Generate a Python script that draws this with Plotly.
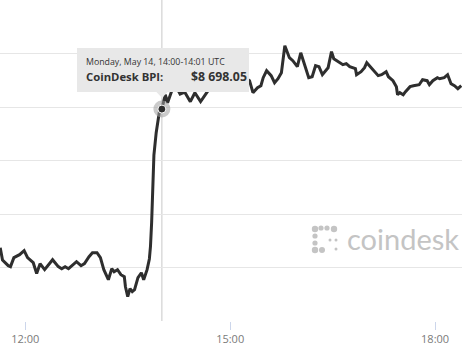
import plotly.graph_objects as go

DAY = "2018-05-14 "

times = [
    "11:38", "11:40", "11:45", "11:47", "11:50", "11:55", "11:59", "12:02", "12:07", "12:10",
    "12:13", "12:17", "12:24", "12:29", "12:32", "12:35", "12:38", "12:45", "12:49", "12:52",
    "12:56", "12:59", "13:03", "13:06", "13:09", "13:13", "13:16", "13:18", "13:21", "13:24",
    "13:27", "13:28", "13:30", "13:32", "13:34", "13:36", "13:39", "13:42", "13:44", "13:47",
    "13:49", "13:50", "13:51", "13:52", "13:53", "13:55", "13:58", "14:00", "14:03", "14:05",
    "14:09", "14:12", "14:16", "14:20", "14:25", "14:29", "14:34", "14:40", "14:44", "14:48",
    "14:53", "14:58", "15:03", "15:08", "15:12", "15:17", "15:20", "15:24", "15:27", "15:29",
    "15:32", "15:36", "15:39", "15:42", "15:45", "15:48", "15:52", "15:55", "15:59", "16:02",
    "16:06", "16:09", "16:12", "16:15", "16:18", "16:21", "16:26", "16:29", "16:31", "16:36",
    "16:39", "16:42", "16:45", "16:50", "16:51", "16:55", "16:58", "17:00", "17:04", "17:07",
    "17:10", "17:13", "17:17", "17:19", "17:23", "17:26", "17:27", "17:29", "17:32", "17:34",
    "17:38", "17:41", "17:46", "17:49", "17:53", "17:55", "17:58", "18:02", "18:04", "18:08",
    "18:11", "18:14", "18:17", "18:20", "18:23",
]

bpi = [
    8568.5, 8557.0, 8551.7, 8550.8, 8559.2, 8562.0, 8565.7, 8559.2, 8554.5, 8544.3,
    8553.6, 8548.0, 8557.3, 8550.8, 8548.9, 8550.8, 8548.9, 8555.4, 8551.7, 8553.6,
    8560.1, 8563.8, 8563.8, 8559.2, 8548.0, 8538.6, 8548.9, 8546.1, 8548.0, 8543.3,
    8541.4, 8532.0, 8522.7, 8530.2, 8527.4, 8529.2, 8540.5, 8545.1, 8538.6, 8548.0,
    8558.0, 8570.0, 8592.0, 8630.0, 8655.0, 8676.0, 8697.0, 8698.05, 8711.5, 8704.0,
    8716.2, 8720.0, 8712.0, 8714.0, 8705.0, 8713.3, 8705.0, 8714.3, 8720.0, 8726.0,
    8718.0, 8724.0, 8730.0, 8722.0, 8728.0, 8724.6, 8713.4, 8718.0, 8719.9, 8727.4,
    8733.9, 8729.3, 8722.7, 8726.4, 8732.0, 8757.3, 8746.1, 8743.3, 8737.7, 8750.7,
    8736.7, 8727.4, 8728.3, 8738.6, 8737.7, 8730.2, 8736.7, 8751.7, 8745.1, 8741.4,
    8739.5, 8740.5, 8737.7, 8735.8, 8730.2, 8733.0, 8736.7, 8741.4, 8736.7, 8733.0,
    8729.3, 8730.2, 8733.0, 8728.3, 8724.6, 8719.0, 8711.5, 8713.4, 8711.5, 8714.3,
    8719.0, 8719.9, 8720.8, 8725.5, 8724.6, 8720.8, 8724.6, 8727.4, 8726.4, 8727.4,
    8730.2, 8721.8, 8719.9, 8717.1, 8719.9,
]

tick_times = ["12:00", "15:00", "18:00"]
tick_labels = ["12:00", "15:00", "18:00"]
grid_values = [8550, 8600, 8650, 8700, 8750]

hover_time = "14:00"
hover_value = 8698.05
tooltip_title = "Monday, May 14, 14:00-14:01 UTC"
tooltip_series = "CoinDesk BPI:"
tooltip_value = "$8 698.05"
x_range = ["11:37:48", "18:23:38"]
y_range = [8500, 8800]

# plot area size in pixels (for decoration placement)
PW, PH = 462, 321
def px(x):
    return x / PW
def py(y):
    return 1 - y / PH

fig = go.Figure()
fig.add_trace(go.Scatter(
    x=[DAY + t for t in times], y=bpi, mode="lines",
    line=dict(color="#2e2e2e", width=3), hoverinfo="skip",
))
# hover halo + point
fig.add_trace(go.Scatter(
    x=[DAY + hover_time], y=[hover_value], mode="markers",
    marker=dict(size=17, color="rgba(160,160,160,0.55)", line=dict(width=0)),
    hoverinfo="skip",
))
fig.add_trace(go.Scatter(
    x=[DAY + hover_time], y=[hover_value], mode="markers",
    marker=dict(size=8, color="#2e2e2e", line=dict(width=1, color="#ffffff")),
    hoverinfo="skip",
))

shapes = []
# crosshair
shapes.append(dict(type="line", xref="x", yref="paper", x0=DAY + hover_time, x1=DAY + hover_time,
                   y0=0, y1=1, line=dict(color="#c8c8c8", width=1), layer="below"))
# tooltip box
shapes.append(dict(type="rect", xref="paper", yref="paper", x0=px(77), x1=px(249), y0=py(92), y1=py(48),
                   fillcolor="#e8e8e8", line=dict(width=0), layer="above"))
shapes.append(dict(type="path", xref="paper", yref="paper",
                   path=f"M {px(156)} {py(91.5)} L {px(162)} {py(98)} L {px(168)} {py(91.5)} Z",
                   fillcolor="#e8e8e8", line=dict(width=0), layer="above"))

# coindesk logo dots
logo_col = "#c4c4c4"
dots = [(315, 229, 3.2), (321, 228, 2.6), (327, 228, 2.6), (334, 229, 3.2),
        (315, 236, 2.6), (315, 243, 2.6), (315, 250, 3.2), (322, 250, 3.0),
        (330, 240, 1.5), (336, 240, 1.5), (336, 249, 1.5)]
for (cx, cy, r) in dots:
    shapes.append(dict(type="circle", xref="paper", yref="paper",
                       x0=px(cx - r), x1=px(cx + r), y0=py(cy + r), y1=py(cy - r),
                       fillcolor=logo_col, line=dict(width=0), layer="below"))

annotations = [
    dict(text=tooltip_title, xref="paper", yref="paper", x=px(84), y=py(62), xanchor="left", yanchor="middle",
         showarrow=False, font=dict(family="Open Sans", size=8.8, color="#333333")),
    dict(text="<b>" + tooltip_series + "</b>", xref="paper", yref="paper", x=px(84), y=py(76),
         xanchor="left", yanchor="middle", showarrow=False,
         font=dict(family="Open Sans", size=11.3, color="#333333")),
    dict(text="<b>" + tooltip_value + "</b>", xref="paper", yref="paper", x=px(249), y=py(76),
         xanchor="right", yanchor="middle", showarrow=False,
         font=dict(family="Open Sans", size=12.3, color="#333333")),
    dict(text="coindesk", xref="paper", yref="paper", x=px(345), y=py(238), xanchor="left", yanchor="middle",
         showarrow=False, font=dict(family="Lato", size=29, color=logo_col)),
]

fig.update_layout(
    width=464, height=352,
    margin=dict(l=0, r=2, t=0, b=31, pad=0),
    paper_bgcolor="white", plot_bgcolor="white",
    showlegend=False,
    shapes=shapes, annotations=annotations,
    xaxis=dict(type="date", range=[DAY + t for t in x_range],
               tickvals=[DAY + t for t in tick_times], ticktext=tick_labels,
               ticks="outside", ticklen=8, tickwidth=1, tickcolor="#ccd6eb",
               showgrid=False, zeroline=False, showline=False,
               tickfont=dict(family="Open Sans", size=11, color="#7a7a7a")),
    yaxis=dict(range=y_range, tickvals=grid_values, showticklabels=False,
               showgrid=True, gridcolor="#e6e6e6", gridwidth=1, zeroline=False, ticks=""),
)

fig.write_html("out.html")
